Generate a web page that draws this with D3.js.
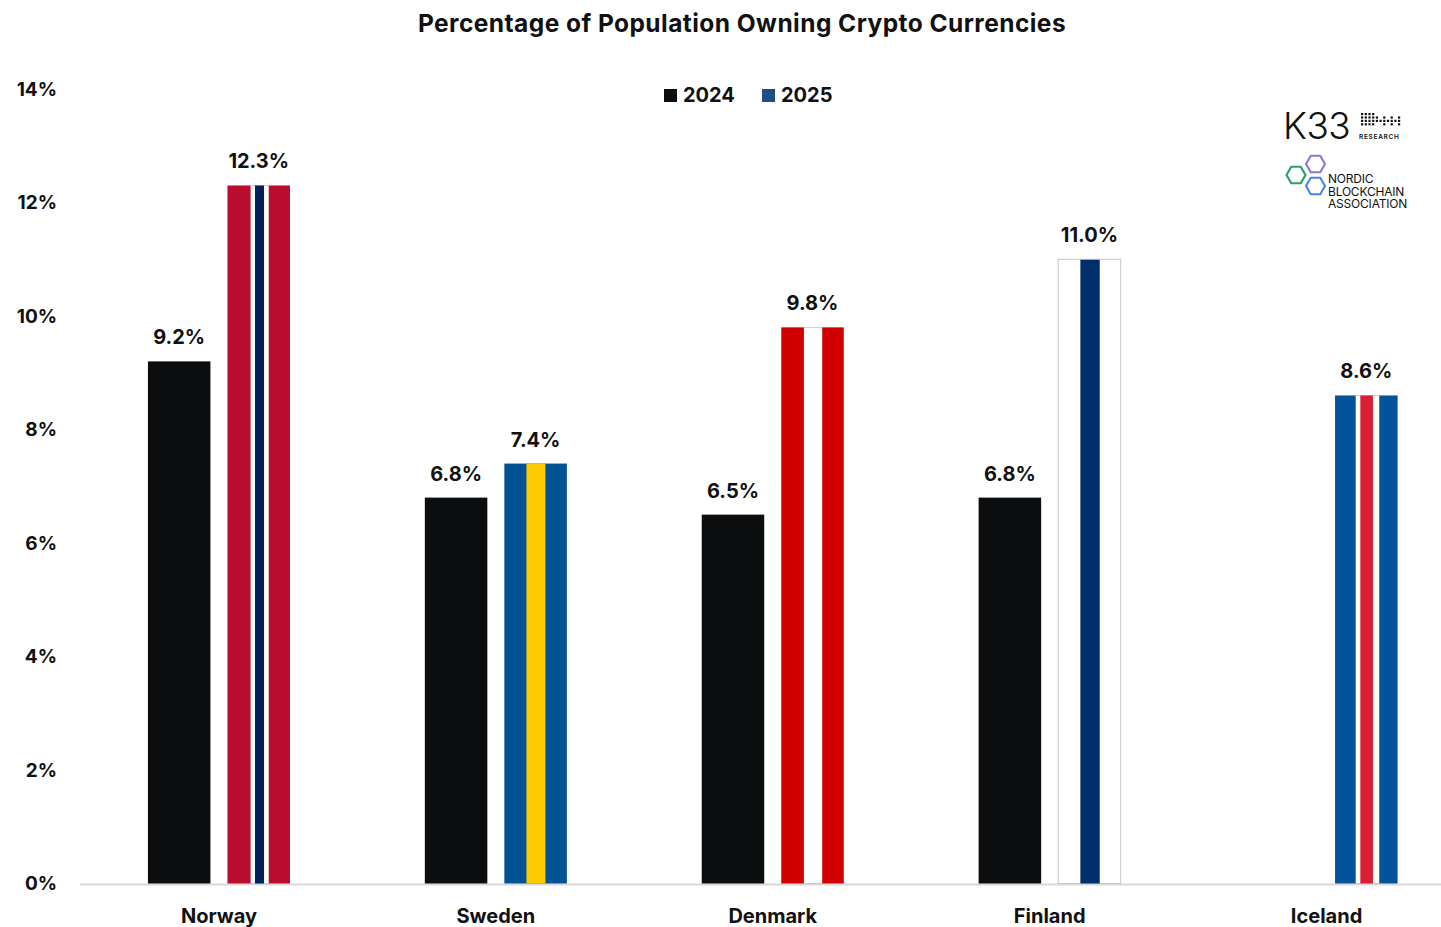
<!DOCTYPE html>
<html><head><meta charset="utf-8">
<script src="https://cdn.jsdelivr.net/npm/d3@7"></script>
<style>
html,body{margin:0;padding:0;background:#fff;}
svg{display:block;font-family:Inter,"Noto Sans",sans-serif;}
</style></head>
<body>
<svg id="chart" width="1441" height="927"></svg>
<script>
const countries = ["Norway","Sweden","Denmark","Finland","Iceland"];
const years = ["2024","2025"];
const values2024 = [9.2, 6.8, 6.5, 6.8, null];
const values2025 = [12.3, 7.4, 9.8, 11.0, 8.6];
const yTicks = [0,2,4,6,8,10,12,14];
const titleText = "Percentage of Population Owning Crypto Currencies";

// flag stripe definitions for 2025 bars (fractions of bar width)
const flags = {
  Norway:  {bg:"#BA0C2F", stripes:[[0.37,0.66,"#ffffff"],[0.44,0.585,"#00205B"]]},
  Sweden:  {bg:"#005293", stripes:[[0.353,0.657,"#FECB00"]]},
  Denmark: {bg:"#D00000", stripes:[[0.362,0.655,"#ffffff"]]},
  Finland: {bg:"#ffffff", stripes:[[0.355,0.665,"#002F6C"]], border:"#c8c8c8"},
  Iceland: {bg:"#02529C", stripes:[[0.33,0.707,"#ffffff"],[0.404,0.606,"#DC1E35"]]}
};

const svg = d3.select("#chart");
const W = 1441, H = 927;
const x0 = d3.scaleBand().domain(countries).range([80.5, 1465]).paddingInner(0.487).paddingOuter(0.2435);
const x1 = d3.scaleBand().domain(years).range([0, x0.bandwidth()]).paddingInner(0.214);
const y = d3.scaleLinear().domain([0,14]).range([883.5, 89]);

// title
svg.append("text").attr("x", 742).attr("y", 32).attr("text-anchor","middle")
  .attr("font-size", 24.5).attr("font-weight", 700).attr("letter-spacing", 0.45)
  .attr("fill","#111").text(titleText);

// y axis labels
const yAxis = d3.axisLeft(y).tickValues(yTicks).tickFormat(d => d + "%").tickSize(0).tickPadding(0);
const ya = svg.append("g").attr("transform","translate(57,0)").call(yAxis);
ya.select(".domain").remove();
ya.selectAll("text").attr("font-size", 19).attr("font-weight", 700).attr("fill","#111")
  .attr("font-family","Inter, sans-serif");

// x axis baseline
svg.append("line").attr("x1", 80).attr("x2", W).attr("y1", y(0)+1).attr("y2", y(0)+1)
  .attr("stroke","#d9d9d9").attr("stroke-width", 2);

// x axis labels
const xAxis = d3.axisBottom(x0).tickSize(0).tickPadding(0);
const xa = svg.append("g").attr("transform", `translate(0,${y(0)+25})`).call(xAxis);
xa.select(".domain").remove();
xa.selectAll("text").attr("font-size", 20).attr("font-weight", 700).attr("fill","#111")
  .attr("font-family","Inter, sans-serif");

// bars
const groups = svg.append("g").selectAll("g").data(countries).join("g")
  .attr("transform", d => `translate(${x0(d)},0)`);

countries.forEach((c, i) => {
  const g = groups.filter(d => d === c);
  const bw = x1.bandwidth();
  const v24 = values2024[i];
  if (v24 != null) {
    g.append("rect").attr("x", x1("2024")).attr("y", y(v24)).attr("width", bw)
      .attr("height", y(0) - y(v24)).attr("fill", "#0c0d0f");
    g.append("text").attr("x", x1("2024") + bw/2).attr("y", y(v24) - 17)
      .attr("text-anchor","middle").attr("font-size", 20).attr("font-weight", 700)
      .attr("fill","#111").text(v24.toFixed(1) + "%");
  }
  const v25 = values2025[i];
  const f = flags[c];
  const bx = x1("2025");
  g.append("rect").attr("x", bx).attr("y", y(v25)).attr("width", bw)
    .attr("height", y(0) - y(v25)).attr("fill", f.bg)
    .attr("stroke", f.border || "none").attr("stroke-width", f.border ? 1 : 0);
  f.stripes.forEach(s => {
    g.append("rect").attr("x", bx + s[0]*bw).attr("y", y(v25) + (f.border ? 0.5 : 0))
      .attr("width", (s[1]-s[0])*bw).attr("height", y(0) - y(v25) - (f.border ? 0.5 : 0))
      .attr("fill", s[2]);
  });
  g.append("text").attr("x", bx + bw/2).attr("y", y(v25) - 17)
    .attr("text-anchor","middle").attr("font-size", 20).attr("font-weight", 700)
    .attr("fill","#111").text(v25.toFixed(1) + "%");
});

// legend
const legendColors = ["#0c0d0f", "#1F4E80"];
const legendX = [664, 762];
years.forEach((yr, i) => {
  svg.append("rect").attr("x", legendX[i]).attr("y", 89).attr("width", 13).attr("height", 13)
    .attr("fill", legendColors[i]);
  svg.append("text").attr("x", legendX[i] + 19).attr("y", 102).attr("font-size", 20)
    .attr("font-weight", 700).attr("fill","#111").text(yr);
});

// logos
const logo = svg.append("g");
logo.append("text").attr("x", 1283).attr("y", 139).attr("font-size", 37).attr("font-weight", 300)
  .attr("fill","#111").attr("letter-spacing", -0.5).text("K33");
// dots grid
const dotRows = [
  [1,1,1,1,0,0,0,0,0,0,0],
  [1,1,1,1,1,0,1,0,1,0,1],
  [1,1,1,1,1,1,1,1,1,1,1],
  [1,1,1,1,0,0,1,0,1,0,1]
];
dotRows.forEach((row, r) => row.forEach((on, cI) => {
  if (on) logo.append("rect").attr("x", 1361 + cI*3.7).attr("y", 113 + r*3.4)
    .attr("width", 2.2).attr("height", 2.2).attr("fill","#111");
}));
logo.append("text").attr("x", 1359).attr("y", 139).attr("font-size", 6.5).attr("font-weight", 600)
  .attr("letter-spacing", 0.7).attr("fill","#111").text("RESEARCH");

function hex(cx, cy, r, color) {
  const pts = d3.range(6).map(k => {
    const a = Math.PI/180 * (60*k);
    return [cx + r*Math.cos(a), cy + r*Math.sin(a)];
  });
  logo.append("polygon").attr("points", pts.map(p => p.join(",")).join(" "))
    .attr("fill","none").attr("stroke", color).attr("stroke-width", 2.2).attr("stroke-linejoin","round");
}
hex(1296, 175, 9.5, "#2e9e6e");
hex(1315.5, 164, 9.5, "#8f7ad8");
hex(1315.5, 186, 9.5, "#4a86e8");
["NORDIC","BLOCKCHAIN","ASSOCIATION"].forEach((t, i) => {
  logo.append("text").attr("x", 1328).attr("y", 183 + i*12.5).attr("font-size", 12)
    .attr("font-weight", 400).attr("fill","#111").attr("letter-spacing", -0.2).text(t);
});
</script>
</body></html>
